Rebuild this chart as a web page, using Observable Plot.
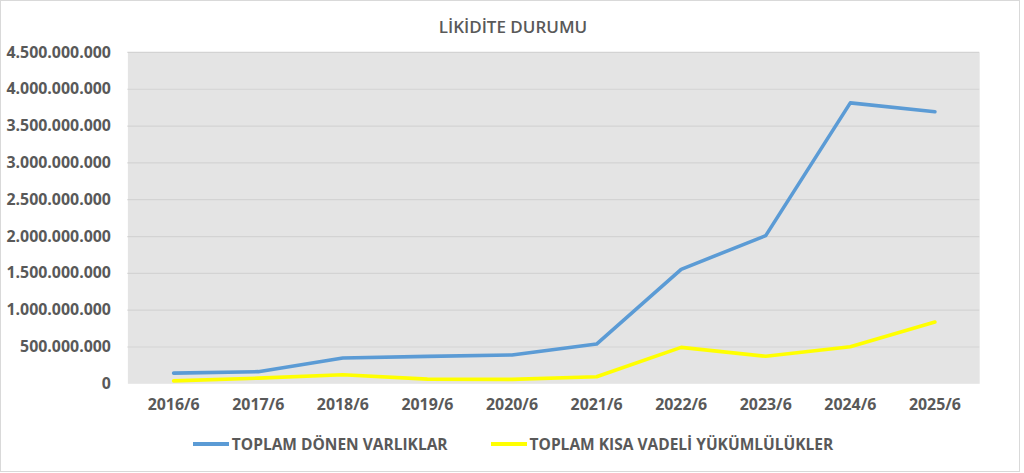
<!DOCTYPE html>
<html>
<head>
<meta charset="utf-8">
<script src="https://cdn.jsdelivr.net/npm/d3@7"></script>
<script src="https://cdn.jsdelivr.net/npm/@observablehq/plot@0.6"></script>
<style>
  html, body { margin: 0; padding: 0; background: #fff; }
  #chart {
    position: absolute; left: 0; top: 0;
    width: 1020px; height: 472px; box-sizing: border-box;
    border: 1px solid #d9d9d9; background: #fff;
    font-family: "Open Sans", sans-serif; color: #595959;
  }
  #title {
    position: absolute; left: 0; top: 0; width: 1024px; height: 40px;
    text-align: center; line-height: 52px; font-size: 17px; font-weight: 600; color: #595959;
  }
  #plot { position: absolute; left: -1px; top: 39px; }
  #legend {
    position: absolute; left: 0px; top: 430px; width: 1024px; height: 26px;
    display: flex; justify-content: center; gap: 43px; align-items: center;
    font-size: 15.5px; font-weight: 700; color: #595959;
  }
  .item { display: flex; align-items: center; }
  .sw { width: 36px; height: 4px; margin-right: 3px; }
</style>
</head>
<body>
<div id="chart">
  <div id="title">LİKİDİTE DURUMU</div>
  <div id="plot"></div>
  <div id="legend"></div>
</div>
<script>
const periods = ["2016/6","2017/6","2018/6","2019/6","2020/6","2021/6","2022/6","2023/6","2024/6","2025/6"];
const donenVarliklar = [145e6, 165e6, 350e6, 372e6, 392e6, 540e6, 1555e6, 2012e6, 3815e6, 3695e6];
const kisaVadeli = [40e6, 77e6, 122e6, 63e6, 60e6, 95e6, 495e6, 374e6, 504e6, 838e6];
const seriesNames = ["TOPLAM DÖNEN VARLIKLAR", "TOPLAM KISA VADELİ YÜKÜMLÜLÜKLER"];
const seriesColors = ["#5B9BD5", "#FFFF00"];
const yTicks = [0, 500e6, 1000e6, 1500e6, 2000e6, 2500e6, 3000e6, 3500e6, 4000e6, 4500e6];

const data = [];
periods.forEach((p, i) => {
  data.push({period: p, value: donenVarliklar[i], series: seriesNames[0]});
  data.push({period: p, value: kisaVadeli[i], series: seriesNames[1]});
});

const loc = d3.formatLocale({decimal: ",", thousands: ".", grouping: [3], currency: ["", ""]});
const fmt = loc.format(",");

const chart = Plot.plot({
  width: 1024,
  height: 381,
  marginTop: 12,
  marginBottom: 36,
  marginLeft: 128,
  marginRight: 40,
  style: {fontFamily: "Open Sans, sans-serif", fontSize: "16px", fontWeight: 700, color: "#595959", background: "transparent", overflow: "visible"},
  x: {type: "point", domain: periods, padding: 0.5, label: null},
  y: {domain: [0, 4500e6], label: null},
  color: {domain: seriesNames, range: seriesColors},
  marks: [
    Plot.frame({fill: "#E4E4E4", stroke: null}),
    Plot.gridY(yTicks.filter(d => d > 0), {stroke: "#D3D3D3", strokeOpacity: 1, strokeWidth: 1.2}),
    Plot.axisY({ticks: yTicks, tickFormat: fmt, tickSize: 0, tickPadding: 17, label: null, fill: "#595959"}),
    Plot.axisX({tickSize: 0, tickPadding: 15, label: null, fill: "#595959"}),
    Plot.line(data, {x: "period", y: "value", z: "series", stroke: "series", strokeWidth: 3.6, strokeLinejoin: "round", strokeLinecap: "round"})
  ]
});
document.getElementById("plot").appendChild(chart);

const legend = document.getElementById("legend");
seriesNames.forEach((n, i) => {
  const it = document.createElement("div");
  it.className = "item";
  const sw = document.createElement("div");
  sw.className = "sw";
  sw.style.background = seriesColors[i];
  const tx = document.createElement("span");
  tx.textContent = n;
  it.appendChild(sw); it.appendChild(tx);
  legend.appendChild(it);
});
</script>
</body>
</html>
